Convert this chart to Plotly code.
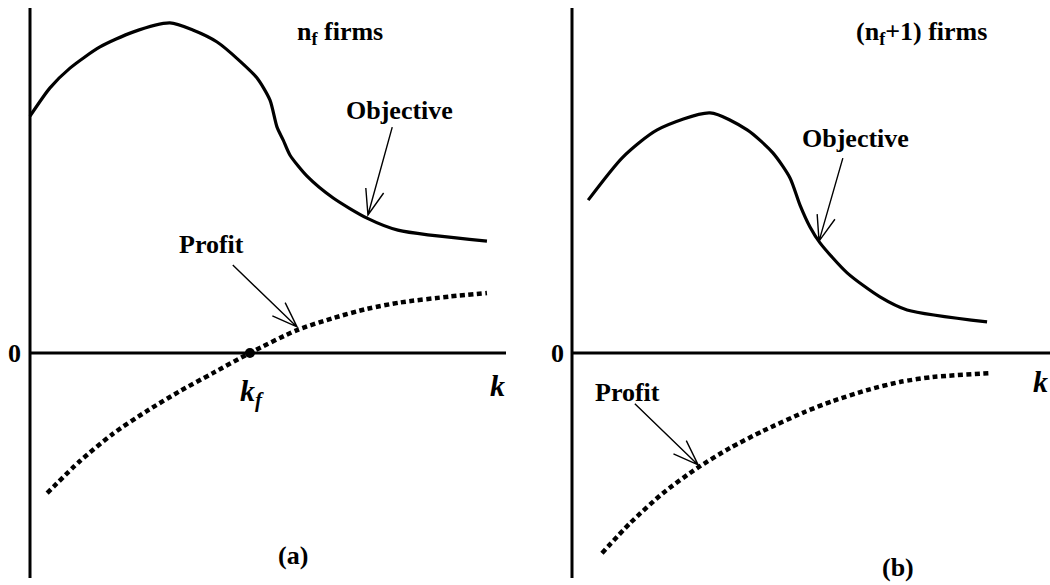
import math
import plotly.graph_objects as go

W, H = 1050, 585

# ---- panel (a): n_f firms ----
obj_a_k = [0.0, 0.42, 0.84, 1.47, 2.16, 2.94, 3.42, 3.93, 4.41, 4.77, 5.04, 5.19,
           5.32, 5.46, 5.82, 6.37, 7.08, 7.73, 9.60]
obj_a_v = [6.71, 7.51, 8.07, 8.67, 9.09, 9.35, 9.15, 8.81, 8.27, 7.79, 7.17, 6.40,
           6.03, 5.61, 5.01, 4.39, 3.82, 3.48, 3.17]
profit_a_k = [0.36, 1.05, 1.74, 2.46, 3.15, 3.84, 4.62, 5.61, 6.37, 7.08, 7.77, 8.82, 9.60]
profit_a_v = [-3.97, -3.06, -2.29, -1.64, -1.08, -0.57, 0.0, 0.65, 0.99, 1.25, 1.43, 1.60, 1.70]
k_f = 4.62

# ---- panel (b): n_f + 1 firms ----
obj_b_k = [0.34, 1.07, 1.79, 2.90, 3.68, 4.22, 4.58, 4.79, 5.00, 5.21, 5.78, 6.47,
           7.04, 8.72]
obj_b_v = [4.33, 5.55, 6.32, 6.80, 6.32, 5.67, 4.96, 4.19, 3.57, 3.12, 2.27, 1.59,
           1.22, 0.88]
profit_b_k = [0.63, 1.22, 1.91, 2.63, 3.32, 4.01, 4.89, 5.48, 6.20, 6.89, 7.58, 8.78]
profit_b_v = [-5.67, -4.82, -3.97, -3.26, -2.69, -2.21, -1.67, -1.36, -1.05, -0.82,
              -0.68, -0.57]

# ---- geometry: pixel origin of each panel and scale ----
ORIGIN_A = (30, 353)
ORIGIN_B = (572, 353)
SPLIT = 530
PX_PER_K = 47.6
PX_PER_V = 35.3
AXIS_TOP_PX, AXIS_BOTTOM_PX = 8, 578

V_MIN = (ORIGIN_A[1] - H) / PX_PER_V
V_MAX = ORIGIN_A[1] / PX_PER_V
V_AXIS_TOP = (ORIGIN_A[1] - AXIS_TOP_PX) / PX_PER_V
V_AXIS_BOTTOM = (ORIGIN_A[1] - AXIS_BOTTOM_PX) / PX_PER_V

xrange_a = [(0 - ORIGIN_A[0]) / PX_PER_K, (SPLIT - ORIGIN_A[0]) / PX_PER_K]
xrange_b = [(SPLIT - ORIGIN_B[0]) / PX_PER_K, (W - ORIGIN_B[0]) / PX_PER_K]
K_AXIS_END_A = (506 - ORIGIN_A[0]) / PX_PER_K
K_AXIS_END_B = xrange_b[1]

FONT = "Liberation Serif, Times New Roman, serif"

fig = go.Figure()

solid = dict(color="black", width=3.2, shape="spline", smoothing=0.7)
dotted = dict(color="black", width=4.5, dash="5px,3.5px", shape="spline", smoothing=0.7)

fig.add_trace(go.Scatter(x=obj_a_k, y=obj_a_v, mode="lines", line=solid,
                         xaxis="x", yaxis="y", hoverinfo="skip"))
fig.add_trace(go.Scatter(x=profit_a_k, y=profit_a_v, mode="lines", line=dotted,
                         xaxis="x", yaxis="y", hoverinfo="skip"))
fig.add_trace(go.Scatter(x=[k_f], y=[0], mode="markers", marker=dict(color="black", size=10),
                         xaxis="x", yaxis="y", hoverinfo="skip"))

fig.add_trace(go.Scatter(x=obj_b_k, y=obj_b_v, mode="lines", line=solid,
                         xaxis="x2", yaxis="y2", hoverinfo="skip"))
fig.add_trace(go.Scatter(x=profit_b_k, y=profit_b_v, mode="lines", line=dotted,
                         xaxis="x2", yaxis="y2", hoverinfo="skip"))

# axes of each panel
axis_line = dict(color="black", width=3)
for xr, yr, kend in (("x", "y", K_AXIS_END_A), ("x2", "y2", K_AXIS_END_B)):
    fig.add_shape(type="line", xref=xr, yref=yr, x0=0, x1=0, y0=V_AXIS_BOTTOM, y1=V_AXIS_TOP, line=axis_line)
    fig.add_shape(type="line", xref=xr, yref=yr, x0=0, x1=kend, y0=0, y1=0, line=axis_line)


def add_arrow(xr, yr, tail, tip, head_len=27, half_angle=20):
    dx = (tip[0] - tail[0]) * PX_PER_K
    dy = (tip[1] - tail[1]) * PX_PER_V
    back = math.atan2(dy, dx) + math.pi
    heads = []
    for s in (1, -1):
        a = back + s * math.radians(half_angle)
        heads.append((tip[0] + head_len * math.cos(a) / PX_PER_K,
                      tip[1] + head_len * math.sin(a) / PX_PER_V))
    path = (f"M {tail[0]},{tail[1]} L {tip[0]},{tip[1]} "
            f"M {heads[0][0]},{heads[0][1]} L {tip[0]},{tip[1]} L {heads[1][0]},{heads[1][1]}")
    fig.add_shape(type="path", xref=xr, yref=yr, path=path,
                  line=dict(color="black", width=1.4))


add_arrow("x", "y", (7.61, 6.40), (7.10, 3.91))
add_arrow("x", "y", (4.26, 2.49), (5.61, 0.74))
add_arrow("x2", "y2", (5.69, 5.52), (5.19, 3.17))
add_arrow("x2", "y2", (1.32, -1.44), (2.65, -3.17))


def label(text, xp, yp, size=26):
    fig.add_annotation(text=text, x=xp / W, y=1 - yp / H, xref="paper", yref="paper",
                       xanchor="center", yanchor="middle", showarrow=False,
                       font=dict(family=FONT, size=size, color="black"))


# panel (a) labels
label("<b>n<sub>f</sub> firms</b>", 340, 33)
label("<b>Objective</b>", 399, 110)
label("<b>Profit</b>", 211, 244)
label("<b>0</b>", 14, 353)
label("<b><i>k</i></b>", 497, 385, size=30)
label("<b><i>k<sub>f</sub></i></b>", 252, 393, size=30)
label("<b>(a)</b>", 293, 555)

# panel (b) labels
label("<b>(n<sub>f</sub>+1) firms</b>", 922, 33)
label("<b>Objective</b>", 855, 138)
label("<b>Profit</b>", 627, 393)
label("<b>0</b>", 557, 353)
label("<b><i>k</i></b>", 1040, 381, size=30)
label("<b>(b)</b>", 898, 567)

hidden = dict(visible=False, showgrid=False, zeroline=False, fixedrange=True)
fig.update_layout(
    width=W, height=H,
    margin=dict(l=0, r=0, t=0, b=0),
    paper_bgcolor="white", plot_bgcolor="white",
    showlegend=False,
    xaxis=dict(domain=[0, SPLIT / W], range=xrange_a, **hidden),
    xaxis2=dict(domain=[SPLIT / W, 1], range=xrange_b, **hidden),
    yaxis=dict(domain=[0, 1], range=[V_MIN, V_MAX], anchor="x", **hidden),
    yaxis2=dict(domain=[0, 1], range=[V_MIN, V_MAX], anchor="x2", **hidden),
)

fig.write_html("out.html")
